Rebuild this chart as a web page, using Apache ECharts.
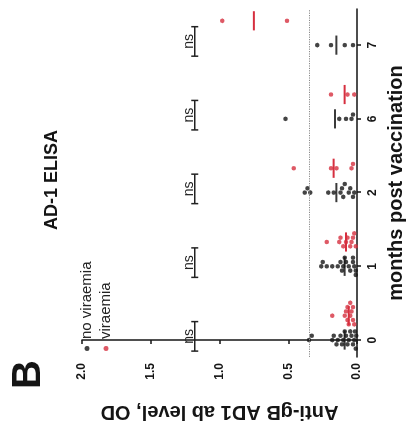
<!DOCTYPE html>
<html><head><meta charset="utf-8">
<script src="https://cdn.jsdelivr.net/npm/echarts@6/dist/echarts.min.js"></script>
<style>
html,body{margin:0;padding:0;background:#fff;overflow:hidden;width:411px;height:435px;}
#chart{position:absolute;left:0;top:0;width:435px;height:411px;transform-origin:0 0;transform:translateY(435px) rotate(-90deg);}
</style></head><body><div id="chart"></div>
<script>
// ---- data ----
const months = ['0', '1', '2', '6', '7'];
const noViraemia = [
  [0.35, 0.33, 0.18, 0.17, 0.15, 0.14, 0.12, 0.11, 0.10, 0.09, 0.08, 0.07, 0.06, 0.05, 0.04, 0.03, 0.02, 0.015, 0.01, 0.005],
  [0.26, 0.25, 0.22, 0.18, 0.14, 0.12, 0.11, 0.10, 0.09, 0.08, 0.06, 0.05, 0.03, 0.03, 0.02, 0.01, 0.01],
  [0.38, 0.36, 0.34, 0.21, 0.17, 0.12, 0.11, 0.10, 0.09, 0.06, 0.05, 0.03, 0.02],
  [0.52, 0.13, 0.08, 0.04, 0.03],
  [0.29, 0.19, 0.09, 0.03]
];
const viraemia = [
  [0.18, 0.09, 0.08, 0.07, 0.07, 0.06, 0.05, 0.05, 0.04, 0.03, 0.03, 0.02],
  [0.22, 0.13, 0.12, 0.10, 0.08, 0.07, 0.05, 0.04, 0.03, 0.02, 0.01],
  [0.46, 0.19, 0.15, 0.04, 0.03],
  [0.19, 0.07, 0.02],
  [0.98, 0.51]
];
const noViraemiaMean = [0.09, 0.09, 0.15, 0.16, 0.15];
const viraemiaMean = [0.06, 0.08, 0.17, 0.09, 0.75];
const cutoff = 0.35;
const sigLabels = ['ns', 'ns', 'ns', 'ns', 'ns'];
const sigLevel = 1.18;
const yTicks = [0, 0.5, 1.0, 1.5, 2.0];

// ---- layout ----
const W = 435, H = 411;
const grid = {left: 78, right: 9, top: 82, bottom: 53};
const xMin = -0.23, xMax = 4.49, yMin = 0, yMax = 2;
const redShift = 0.33;
const pxX = (W - grid.left - grid.right) / (xMax - xMin);
const pxY = (H - grid.top - grid.bottom) / (yMax - yMin);

function swarm(vals, base) {
  const d = 4.3, placed = [], out = new Array(vals.length);
  const order = vals.map((v, i) => i).sort((a, b) => vals[b] - vals[a]);
  for (const i of order) {
    const v = vals[i];
    let off = 0;
    for (let n = 0; n < 40; n++) {
      off = n === 0 ? 0 : (n % 2 ? 1 : -1) * Math.ceil(n / 2) * d;
      if (placed.every(p => Math.hypot(p[0] - off, (p[1] - v) * pxY) >= d)) break;
    }
    placed.push([off, v]);
    out[i] = [base + off / pxX, v];
  }
  return out;
}

const blackPts = [], redPts = [];
months.forEach((m, i) => {
  swarm(noViraemia[i], i).forEach(p => blackPts.push(p));
  swarm(viraemia[i], i + redShift).forEach(p => redPts.push(p));
});

const font = 'Liberation Sans, Arial, sans-serif';
const ink = '#151515';
const red = '#d62f3f';

function meanRender(color) {
  return function (params, api) {
    const x = api.value(0), m = api.value(1);
    const a = api.coord([x - 0.13, m]), b = api.coord([x + 0.13, m]);
    return {type: 'line', shape: {x1: a[0], y1: a[1], x2: b[0], y2: b[1]},
      style: {stroke: color, lineWidth: 2}};
  };
}

const chart = echarts.init(document.getElementById('chart'), null, {width: W, height: H});
chart.setOption({
  animation: false,
  backgroundColor: '#fff',
  textStyle: {fontFamily: font},
  title: [
    {text: 'AD-1 ELISA', left: 205, top: 43, padding: 0,
      textStyle: {fontSize: 18, fontWeight: 'bold', color: ink, fontFamily: font}},
    {text: 'B', left: 46, top: 9, padding: 0,
      textStyle: {fontSize: 40, fontWeight: 'bold', color: ink, fontFamily: font}}
  ],
  legend: {
    orient: 'vertical', left: 79, top: 74, itemWidth: 5, itemHeight: 5, itemGap: 3,
    icon: 'circle', data: ['no viraemia', 'viraemia'],
    textStyle: {fontSize: 15, color: '#222', lineHeight: 16, padding: [0, 0, 0, 2], fontFamily: font}
  },
  grid: {left: grid.left, right: grid.right, top: grid.top, bottom: grid.bottom, containLabel: false},
  xAxis: {
    type: 'value', min: xMin, max: xMax,
    axisLine: {lineStyle: {color: ink, width: 1.5}},
    axisTick: {customValues: months.map((m, i) => i), length: 4, lineStyle: {color: ink, width: 1.5}},
    axisLabel: {customValues: months.map((m, i) => i), formatter: v => months[Math.round(v)],
      fontSize: 12, fontWeight: 'bold', color: ink, margin: 10},
    splitLine: {show: false},
    name: 'months post vaccination', nameLocation: 'middle', nameGap: 29,
    nameTextStyle: {fontSize: 20, fontWeight: 'bold', color: ink, fontFamily: font}
  },
  yAxis: {
    type: 'value', min: yMin, max: yMax, interval: 0.5,
    axisLine: {show: true, lineStyle: {color: ink, width: 1.5}},
    axisTick: {show: true, length: 4, lineStyle: {color: ink, width: 1.5}},
    axisLabel: {formatter: v => yTicks.includes(v) ? v.toFixed(1) : '', fontSize: 12, fontWeight: 'bold', color: ink, margin: 6},
    splitLine: {show: false},
    name: 'Anti-gB AD1 ab level, OD', nameLocation: 'middle', nameGap: 45, nameRotate: 90,
    nameTextStyle: {fontSize: 20, fontWeight: 'bold', color: ink, fontFamily: font}
  },
  series: [
    {
      name: 'no viraemia', type: 'scatter', data: blackPts, symbolSize: 4.5,
      itemStyle: {color: ink}, z: 3,
      markLine: {silent: true, symbol: 'none', label: {show: false},
        lineStyle: {type: 'dotted', color: '#8a8a8a', width: 1.2},
        data: [{yAxis: cutoff}]}
    },
    {name: 'viraemia', type: 'scatter', data: redPts, symbolSize: 4.5, itemStyle: {color: red}, z: 3},
    {type: 'custom', renderItem: meanRender('#3a3a3a'), data: noViraemiaMean.map((m, i) => [i, m]), z: 2},
    {type: 'custom', renderItem: meanRender(red), data: viraemiaMean.map((m, i) => [i + redShift, m]), z: 2},
    {
      type: 'custom', z: 2,
      data: sigLabels.map((s, i) => [i, sigLevel]),
      renderItem: function (params, api) {
        const i = api.value(0), lvl = api.value(1);
        const a = api.coord([i - 0.15, lvl]), b = api.coord([i + 0.25, lvl]);
        const st = {stroke: '#222', lineWidth: 1.5};
        return {type: 'group', children: [
          {type: 'line', shape: {x1: a[0], y1: a[1], x2: b[0], y2: b[1]}, style: st},
          {type: 'line', shape: {x1: a[0], y1: a[1] - 3.5, x2: a[0], y2: a[1] + 3.5}, style: st},
          {type: 'line', shape: {x1: b[0], y1: b[1] - 3.5, x2: b[0], y2: b[1] + 3.5}, style: st},
          {type: 'text', style: {text: sigLabels[params.dataIndex], x: (a[0] + b[0]) / 2, y: a[1] + 1,
            align: 'center', verticalAlign: 'bottom', fontSize: 14, fill: '#222', fontFamily: font}}
        ]};
      }
    }
  ]
});
</script>
</body></html>
